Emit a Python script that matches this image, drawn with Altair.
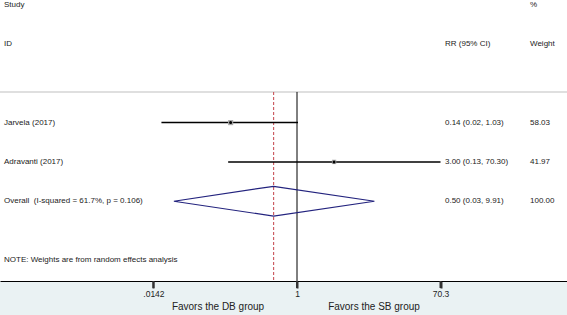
import altair as alt
import pandas as pd

# ---- data ----
studies = ["Jarvela (2017)", "Adravanti (2017)"]
rr = [0.14, 3.00]
ci_lo = [0.018, 0.13]
ci_hi = [1.03, 70.30]
weights = [58.03, 41.97]
study_rows = [1, 2]

overall_label = "Overall\u00a0 (I-squared = 61.7%, p = 0.106)"
overall_rr = 0.50
overall_lo = 0.026
overall_hi = 9.91
overall_weight = 100.00
overall_row = 3

note_text = "NOTE: Weights are from random effects analysis"
note_row = 4.5

tick_vals = [0.0142, 1, 70.3]
tick_labels = [".0142", "1", "70.3"]
favor_labels = ["Favors the DB group", "Favors the SB group"]

W, H = 567, 281
FONT = "Liberation Sans"

def ci_text(e, l, h):
    return f"{e:.2f} ({l:.2f}, {h:.2f})"

studies_df = pd.DataFrame({
    "label": studies, "rr": rr, "lo": ci_lo, "hi": ci_hi,
    "weight": weights, "row": study_rows,
})
studies_df["ci"] = [ci_text(e, l, h) for e, l, h in zip(rr, ci_lo, ci_hi)]
studies_df["w"] = [f"{w:.2f}" for w in weights]

rows_df = pd.DataFrame({
    "label": studies + [overall_label],
    "row": study_rows + [overall_row],
    "ci": list(studies_df["ci"]) + [ci_text(overall_rr, overall_lo, overall_hi)],
    "w": list(studies_df["w"]) + [f"{overall_weight:.2f}"],
})

half = 0.38
diamond_df = pd.DataFrame({
    "x": [overall_lo, overall_rr, overall_hi, overall_rr, overall_lo],
    "row": [overall_row, overall_row - half, overall_row, overall_row + half, overall_row],
    "o": [0, 1, 2, 3, 4],
})

xscale = alt.Scale(type="log", domain=[1.505e-4, 2985], nice=False)
yscale = alt.Scale(domain=[-2.12, 5.03], reverse=True, nice=False, zero=False)

label_expr = " : ".join(
    f"datum.value == {v} ? '{t}'" for v, t in zip(tick_vals, tick_labels)
) + " : ''"

base = alt.Chart(studies_df)

# axis holder (invisible)
axis_layer = alt.Chart(pd.DataFrame({"x": [1.0], "row": [0.22]})).mark_point(opacity=0).encode(
    x=alt.X("x:Q", scale=xscale, title=None,
            axis=alt.Axis(values=tick_vals, labelExpr=label_expr, grid=False,
                          ticks=True, tickSize=7, tickWidth=2, tickColor="#333",
                          domainColor="#000", domainWidth=1,
                          labelFontSize=8.5, labelColor="#222", labelFont=FONT,
                          labelPadding=1, labelFlush=False)),
    y=alt.Y("row:Q", scale=yscale, axis=None),
)

ticks_df = pd.DataFrame({"x": tick_vals})
tick_marks = alt.Chart(ticks_df).mark_rule(color="#333", strokeWidth=2, clip=False).encode(
    x=alt.X("x:Q", scale=xscale), y=alt.value(H), y2=alt.value(H + 7)
)

sep_df = pd.DataFrame({"row": [0.22]})
separator = alt.Chart(sep_df).mark_rule(color="#d4d4d4", strokeWidth=1.5).encode(
    y="row:Q", x=alt.value(0), x2=alt.value(W)
)

vlines_df = pd.DataFrame({"x": [1.0], "top": [0.22], "bot": [5.03]})
null_line = alt.Chart(vlines_df).mark_rule(color="#000", strokeWidth=1).encode(
    x=alt.X("x:Q", scale=xscale), y=alt.Y("top:Q", scale=yscale), y2="bot:Q"
)
ov_df = pd.DataFrame({"x": [overall_rr], "top": [0.22], "bot": [5.03]})
ov_line = alt.Chart(ov_df).mark_rule(color="#c9545a", strokeWidth=1.1, strokeDash=[3, 2]).encode(
    x=alt.X("x:Q", scale=xscale), y=alt.Y("top:Q", scale=yscale), y2="bot:Q"
)

ci_lines = base.mark_rule(color="#000", strokeWidth=1.5).encode(
    x=alt.X("lo:Q", scale=xscale), x2="hi:Q", y=alt.Y("row:Q", scale=yscale)
)
boxes = base.mark_square(color="#a8a8a8", opacity=1).encode(
    x=alt.X("rr:Q", scale=xscale), y=alt.Y("row:Q", scale=yscale),
    size=alt.Size("weight:Q", scale=alt.Scale(domain=[0, 100], range=[0, 45]), legend=None),
)
dots = base.mark_circle(color="#000", size=9, opacity=1).encode(
    x=alt.X("rr:Q", scale=xscale), y=alt.Y("row:Q", scale=yscale)
)

diamond = alt.Chart(diamond_df).mark_line(color="#23237e", strokeWidth=1.2).encode(
    x=alt.X("x:Q", scale=xscale), y=alt.Y("row:Q", scale=yscale), order="o:Q"
)

txt = dict(fontSize=8, font=FONT, color="#222", align="left", baseline="middle")
left_text = alt.Chart(rows_df).mark_text(**txt).encode(
    x=alt.value(4), y=alt.Y("row:Q", scale=yscale), text="label:N"
)
ci_col = alt.Chart(rows_df).mark_text(**txt).encode(
    x=alt.value(445), y=alt.Y("row:Q", scale=yscale), text="ci:N"
)
w_col = alt.Chart(rows_df).mark_text(**txt).encode(
    x=alt.value(530), y=alt.Y("row:Q", scale=yscale), text="w:N"
)

head_df = pd.DataFrame({
    "t": ["Study", "ID", "RR (95% CI)", "%", "Weight", note_text],
    "px": [4, 4, 445, 530, 530, 4],
    "row": [-2, -1, -1, -2, -1, note_row],
})
headers = alt.Chart(head_df).mark_text(**txt).encode(
    x=alt.X("px:Q", scale=None), y=alt.Y("row:Q", scale=yscale), text="t:N"
)

fav_df = pd.DataFrame({"t": favor_labels, "px": [218, 374]})
favors = alt.Chart(fav_df).mark_text(fontSize=10, font=FONT, color="#222",
                                      align="center", baseline="middle").encode(
    x=alt.X("px:Q", scale=None), y=alt.value(307), text="t:N"
)

chart = alt.layer(
    axis_layer, separator, null_line, ov_line, ci_lines, boxes, dots, diamond,
    left_text, ci_col, w_col, headers, favors, tick_marks
).properties(
    width=W, height=H,
    padding={"left": 0, "top": 0, "right": 0, "bottom": 34},
    autosize=alt.AutoSizeParams(type="none"),
    background="#eaf2f3",
).configure_view(fill="white", strokeWidth=0)

chart.save("out.html", embed_options={"renderer": "svg", "actions": False})
